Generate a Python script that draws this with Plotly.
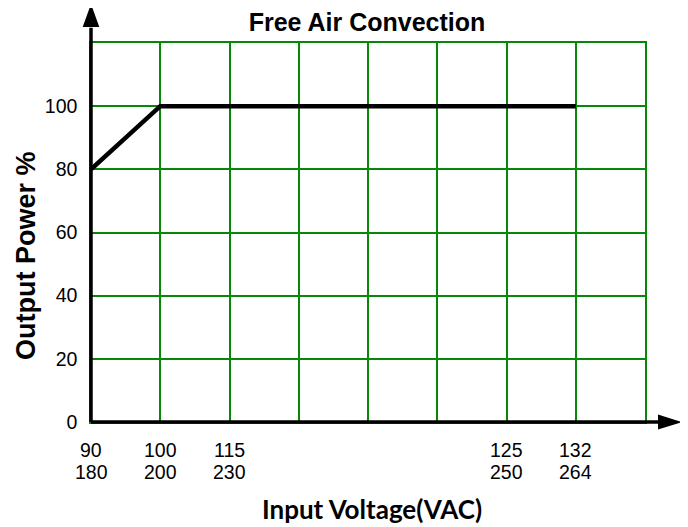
import plotly.graph_objects as go

# ---- data ----
# x positions are grid-column indices; each column is one labelled step
col_positions = [0, 1, 2, 3, 4, 5, 6, 7, 8]
label_positions = [0, 1, 2, 6, 7]
label_low = ["90", "100", "115", "125", "132"]     # 115 V class
label_high = ["180", "200", "230", "250", "264"]   # 230 V class
y_ticks = [0, 20, 40, 60, 80, 100, 120]
y_tick_labels = ["0", "20", "40", "60", "80", "100", ""]

curve_x = [0, 1, 7]          # 90/180 V, 100/200 V, 132/264 V
curve_y = [80, 100, 100]     # output power %

title_text = "Free Air Convection"
x_title = "Input Voltage(VAC)"
y_title = "Output Power %"

# page offset of the figure (default body margin) and plot-area pixels in the window
OFF = 8
PX0, PX1, PY0, PY1 = 91, 645, 43, 422
W, H = 688 - OFF, 527 - OFF
L, T = PX0 - OFF, PY0 - OFF
R, B = W - L - (PX1 - PX0), H - T - (PY1 - PY0)
pw, ph = PX1 - PX0, PY1 - PY0

grid_color = "#058805"
arial = "Liberation Sans, Arial, sans-serif"


def px_x(p):
    return (p - PX0) / pw


def px_y(p):
    return (PY1 - p) / ph


fig = go.Figure()
fig.add_trace(go.Scatter(
    x=curve_x, y=curve_y, mode="lines",
    line=dict(color="black", width=4.5),
    showlegend=False, hoverinfo="skip",
))

# axis lines with arrow heads
x_base, x_tip, x_half = px_x(658), px_x(682), 7.5 / ph
y_base, y_tip, y_half = px_y(27), px_y(4), 8.3 / pw
shapes = [
    dict(type="line", xref="paper", yref="paper", x0=0, y0=0, x1=x_base + 0.002, y1=0,
         line=dict(color="black", width=3.5), layer="above"),
    dict(type="line", xref="paper", yref="paper", x0=0, y0=0, x1=0, y1=y_base - 0.002,
         line=dict(color="black", width=3.5), layer="above"),
    dict(type="path", xref="paper", yref="paper",
         path=f"M {x_base} {-x_half} L {x_tip} 0 L {x_base} {x_half} Z",
         fillcolor="black", line=dict(color="black", width=0), layer="above"),
    dict(type="path", xref="paper", yref="paper",
         path=f"M {-y_half} {y_base} L 0 {y_tip} L {y_half} {y_base} Z",
         fillcolor="black", line=dict(color="black", width=0), layer="above"),
]

annotations = [
    dict(text=f"<b>{y_title}</b>", xref="paper", yref="paper",
         x=px_x(26), y=px_y(256), textangle=-90, showarrow=False,
         xanchor="center", yanchor="middle",
         font=dict(family=arial, size=27, color="black")),
    dict(text=f"<b>{x_title}</b>", xref="paper", yref="paper",
         x=px_x(372), y=px_y(509), showarrow=False,
         xanchor="center", yanchor="middle",
         font=dict(family="Lato, sans-serif", size=26, color="black")),
]
# two-row x tick labels, placed on the x axis scale
for pos, lo, hi in zip(label_positions, label_low, label_high):
    annotations.append(dict(text=lo, xref="x", yref="paper", x=pos, y=px_y(450),
                            showarrow=False, xanchor="center", yanchor="middle",
                            font=dict(family=arial, size=19.5, color="black")))
    annotations.append(dict(text=hi, xref="x", yref="paper", x=pos, y=px_y(472),
                            showarrow=False, xanchor="center", yanchor="middle",
                            font=dict(family=arial, size=19.5, color="black")))

fig.update_layout(
    width=W, height=H,
    margin=dict(l=L, r=R, t=T, b=B, autoexpand=False),
    paper_bgcolor="white", plot_bgcolor="white",
    title=dict(text=f"<b>{title_text}</b>", x=(367 - OFF) / W, xref="container",
               y=1 - (22 - OFF) / H, yref="container", xanchor="center", yanchor="middle",
               font=dict(family=arial, size=25, color="black")),
    shapes=shapes, annotations=annotations,
    xaxis=dict(range=[0, 8], tickvals=col_positions, showticklabels=False,
               showgrid=True, gridcolor=grid_color, gridwidth=1.5,
               showline=True, mirror=True, linecolor=grid_color, linewidth=1.5,
               zeroline=False, ticks="", fixedrange=True),
    yaxis=dict(range=[0, 120], tickvals=y_ticks, ticktext=y_tick_labels,
               showgrid=True, gridcolor=grid_color, gridwidth=1.5,
               showline=True, mirror=True, linecolor=grid_color, linewidth=1.5,
               zeroline=False, ticks="",
               tickfont=dict(family=arial, size=19.5, color="black"),
               ticklabelstandoff=8, fixedrange=True),
)

fig.write_html("out.html")
